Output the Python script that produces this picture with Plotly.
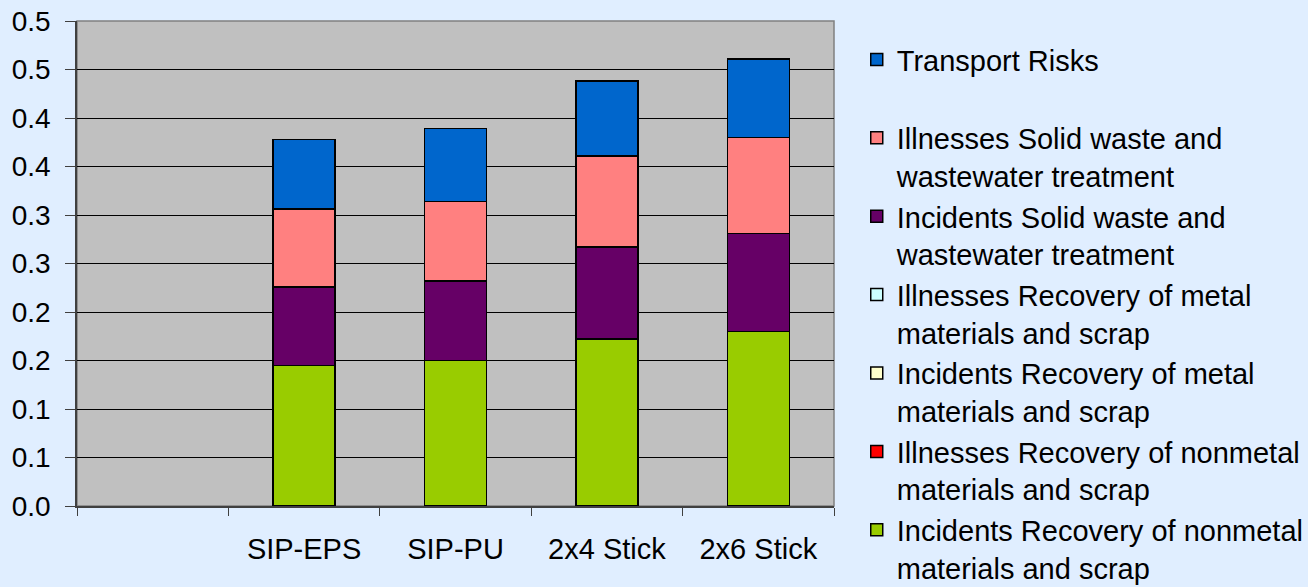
import plotly.graph_objects as go

# categories (first slot is an empty category, as in the original sheet)
categories = [" ", "SIP-EPS", "SIP-PU", "2x4 Stick", "2x6 Stick"]

# stacked segments, bottom to top
incidents_nonmetal = [None, 0.145, 0.150, 0.172, 0.180]
illnesses_nonmetal = [None, 0.0, 0.0, 0.0, 0.0]
incidents_metal = [None, 0.0, 0.0, 0.0, 0.0]
illnesses_metal = [None, 0.0, 0.0, 0.0, 0.0]
incidents_waste = [None, 0.081, 0.082, 0.095, 0.101]
illnesses_waste = [None, 0.080, 0.082, 0.094, 0.099]
transport_risks = [None, 0.072, 0.075, 0.077, 0.081]

y_tickvals = [0, 0.05, 0.1, 0.15, 0.2, 0.25, 0.3, 0.35, 0.4, 0.45, 0.5]
y_ticktext = ["0.0", "0.1", "0.1", "0.2", "0.2", "0.3", "0.3", "0.4", "0.4", "0.5", "0.5"]

series = [
    ("Incidents Recovery of nonmetal<br>materials and scrap", incidents_nonmetal, "#99CC00"),
    ("Illnesses Recovery of nonmetal<br>materials and scrap", illnesses_nonmetal, "#FF0000"),
    ("Incidents Recovery of metal<br>materials and scrap", incidents_metal, "#FFFFCC"),
    ("Illnesses Recovery of metal<br>materials and scrap", illnesses_metal, "#CCFFFF"),
    ("Incidents Solid waste and<br>wastewater treatment", incidents_waste, "#660066"),
    ("Illnesses Solid waste and<br>wastewater treatment", illnesses_waste, "#FF8080"),
    ("Transport Risks<br>&nbsp;", transport_risks, "#0066CC"),
]

FONT = "Arial, Liberation Sans, sans-serif"

fig = go.Figure()
for i, (name, vals, color) in enumerate(series):
    # top of the stack is listed first in the legend
    fig.add_trace(go.Bar(
        x=categories, y=vals, name=name, width=0.41,
        legendgroup=f"g{i}", legendrank=len(series) - i,
        marker=dict(color=color, line=dict(color="black", width=1.5)),
    ))

fig.update_layout(
    width=1308, height=587,
    barmode="stack",
    paper_bgcolor="#E0EEFF",
    plot_bgcolor="#C0C0C0",
    margin=dict(l=77, r=474, t=21, b=81, autoexpand=False),
    font=dict(family=FONT, size=29, color="black"),
    showlegend=True,
    legend=dict(
        xref="container", yref="container",
        x=0.655, y=0.942, xanchor="left", yanchor="top",
        valign="top", traceorder="grouped", tracegroupgap=0,
        bgcolor="rgba(0,0,0,0)", borderwidth=0, maxheight=900,
        font=dict(family=FONT, size=29, color="black"),
        itemclick=False,
    ),
    xaxis=dict(
        type="category", categoryorder="array", categoryarray=categories,
        range=[-0.5, 4.5],
        showline=True, linecolor="#404040", linewidth=1.5,
        ticks="outside", tickson="boundaries", ticklen=8, tickcolor="#404040",
        showgrid=False, ticklabelstandoff=16,
    ),
    yaxis=dict(
        range=[0, 0.5], tickvals=y_tickvals, ticktext=y_ticktext,
        showline=True, linecolor="#404040", linewidth=1.5,
        ticks="outside", ticklen=10, tickcolor="#404040",
        showgrid=True, gridcolor="black", gridwidth=1,
        zeroline=False, ticklabelstandoff=9, tickfont=dict(size=28),
    ),
)

# gray plot-area frame
fig.add_shape(type="rect", xref="paper", yref="paper", x0=0, y0=0, x1=1, y1=1,
              line=dict(color="#808080", width=1.5), layer="below")

fig.write_html("out.html", config={"displayModeBar": False},
               post_script="document.body.style.margin='0';")
